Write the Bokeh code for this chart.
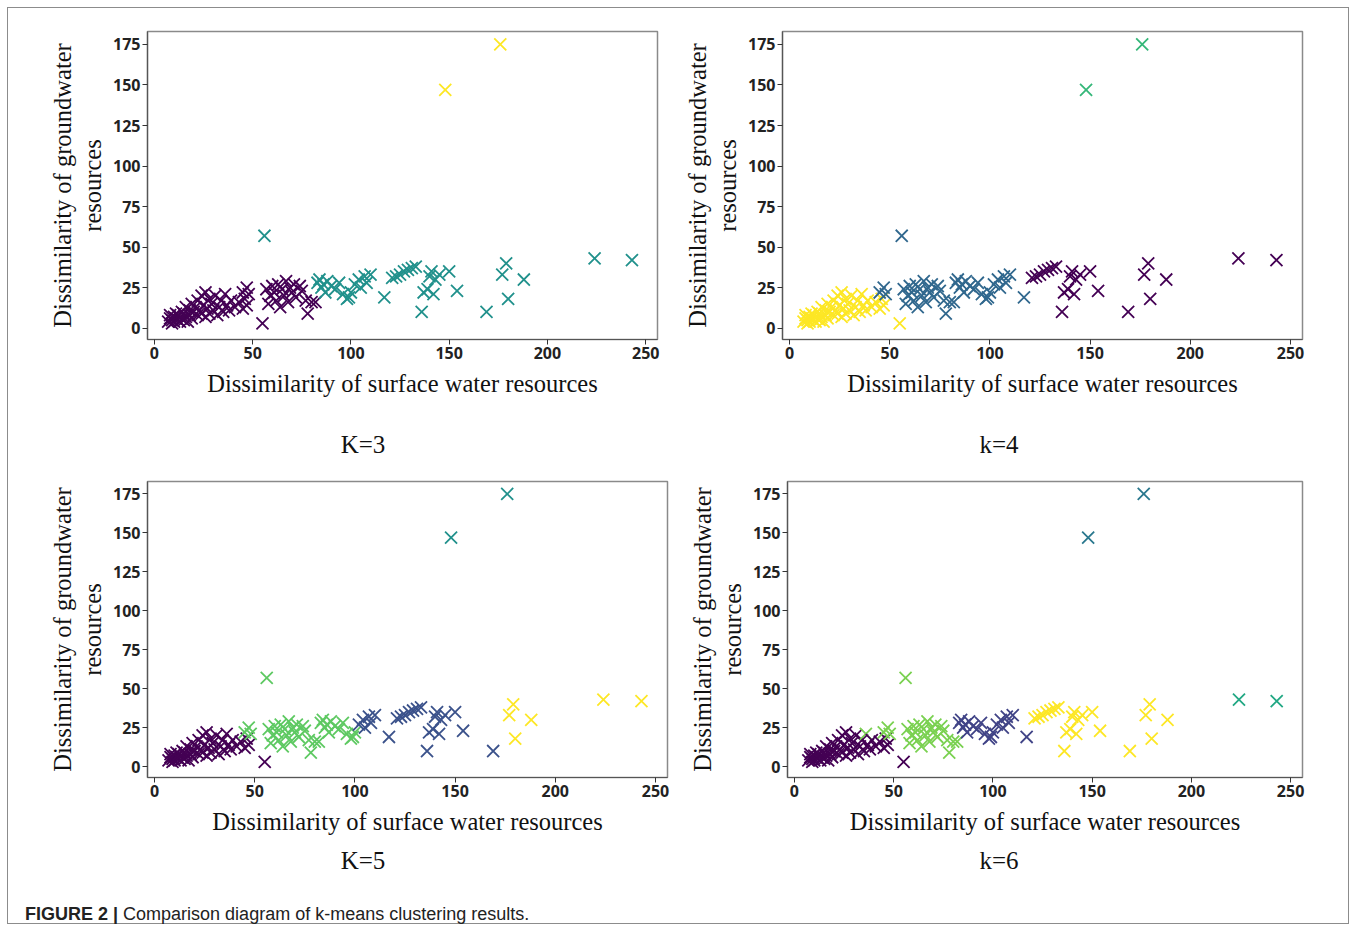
from bokeh.plotting import figure
from bokeh.layouts import column, row
from bokeh.models import Div, Range1d, FixedTicker, ColumnDataSource
from bokeh.embed import file_html
from bokeh.resources import INLINE

# ---- data ----
surface = [
    7, 8, 8, 9, 9, 10, 10, 11, 11, 12, 12, 13, 13, 14, 14, 15, 15, 16, 16, 17, 18, 18, 19, 19, 20,
    21, 22, 22, 23, 24, 24, 25, 26, 26, 27, 28, 28, 29, 30, 31, 32, 33, 34, 35, 36, 37, 38, 39,
    41, 43, 45, 46, 47, 45, 47, 48, 55,
    56, 57, 58, 59, 60, 61, 62, 63, 64, 65, 66, 67, 68, 69, 70, 71, 72, 74, 75, 77, 78, 80, 82,
    83, 84, 85, 86, 87, 88, 90, 92, 94, 96, 98, 99, 100,
    102, 104, 105, 107, 108, 110, 117,
    121, 123, 125, 127, 129, 131, 133, 136, 137, 139, 140, 141, 142, 143, 145, 150, 154, 169,
    177, 179, 180, 188,
    224, 243,
    148, 176,
]
ground = [
    4, 6, 8, 3, 5, 7, 4, 6, 9, 5, 8, 4, 7, 6, 10, 5, 9, 13, 7, 4, 11, 8, 15, 6, 10,
    13, 17, 8, 11, 20, 9, 14, 22, 7, 12, 18, 9, 15, 11, 20, 8, 13, 17, 10, 21, 14, 11, 17,
    13, 16, 12, 18, 14, 22, 25, 21, 3,
    57, 24, 15, 20, 26, 22, 17, 27, 13, 24, 20, 29, 16, 25, 22, 27, 19, 26, 23, 17, 9, 16, 16,
    28, 30, 25, 27, 22, 29, 26, 24, 28, 21, 18, 19, 22,
    27, 30, 25, 32, 28, 33, 19,
    31, 32, 33, 35, 36, 37, 38, 10, 22, 24, 32, 35, 21, 30, 33, 35, 23, 10,
    33, 40, 18, 30,
    43, 42,
    147, 175,
]
labels_k3 = [
    0, 0, 0, 0, 0, 0, 0, 0, 0, 0, 0, 0, 0, 0, 0, 0, 0, 0, 0, 0, 0, 0, 0, 0, 0,
    0, 0, 0, 0, 0, 0, 0, 0, 0, 0, 0, 0, 0, 0, 0, 0, 0, 0, 0, 0, 0, 0, 0,
    0, 0, 0, 0, 0, 0, 0, 0, 0,
    1, 0, 0, 0, 0, 0, 0, 0, 0, 0, 0, 0, 0, 0, 0, 0, 0, 0, 0, 0, 0, 0, 0,
    1, 1, 1, 1, 1, 1, 1, 1, 1, 1, 1, 1, 1,
    1, 1, 1, 1, 1, 1, 1,
    1, 1, 1, 1, 1, 1, 1, 1, 1, 1, 1, 1, 1, 1, 1, 1, 1, 1,
    1, 1, 1, 1,
    1, 1,
    2, 2,
]
labels_k4 = [
    3, 3, 3, 3, 3, 3, 3, 3, 3, 3, 3, 3, 3, 3, 3, 3, 3, 3, 3, 3, 3, 3, 3, 3, 3,
    3, 3, 3, 3, 3, 3, 3, 3, 3, 3, 3, 3, 3, 3, 3, 3, 3, 3, 3, 3, 3, 3, 3,
    3, 3, 3, 3, 3, 1, 1, 1, 3,
    1, 1, 1, 1, 1, 1, 1, 1, 1, 1, 1, 1, 1, 1, 1, 1, 1, 1, 1, 1, 1, 1, 1,
    1, 1, 1, 1, 1, 1, 1, 1, 1, 1, 1, 1, 1,
    1, 1, 1, 1, 1, 1, 1,
    0, 0, 0, 0, 0, 0, 0, 0, 0, 0, 0, 0, 0, 0, 0, 0, 0, 0,
    0, 0, 0, 0,
    0, 0,
    2, 2,
]
labels_k5 = [
    0, 0, 0, 0, 0, 0, 0, 0, 0, 0, 0, 0, 0, 0, 0, 0, 0, 0, 0, 0, 0, 0, 0, 0, 0,
    0, 0, 0, 0, 0, 0, 0, 0, 0, 0, 0, 0, 0, 0, 0, 0, 0, 0, 0, 0, 0, 0, 0,
    0, 0, 0, 0, 0, 3, 3, 3, 0,
    3, 3, 3, 3, 3, 3, 3, 3, 3, 3, 3, 3, 3, 3, 3, 3, 3, 3, 3, 3, 3, 3, 3,
    3, 3, 3, 3, 3, 3, 3, 3, 3, 3, 3, 3, 3,
    1, 1, 1, 1, 1, 1, 1,
    1, 1, 1, 1, 1, 1, 1, 1, 1, 1, 1, 1, 1, 1, 1, 1, 1, 1,
    4, 4, 4, 4,
    4, 4,
    2, 2,
]
labels_k6 = [
    0, 0, 0, 0, 0, 0, 0, 0, 0, 0, 0, 0, 0, 0, 0, 0, 0, 0, 0, 0, 0, 0, 0, 0, 0,
    0, 0, 0, 0, 0, 0, 0, 0, 0, 0, 0, 0, 0, 0, 0, 0, 0, 0, 0, 4, 0, 0, 0,
    0, 0, 0, 0, 0, 4, 4, 4, 0,
    4, 4, 4, 4, 4, 4, 4, 4, 4, 4, 4, 4, 4, 4, 4, 4, 4, 4, 4, 4, 4, 4, 4,
    1, 1, 1, 1, 1, 1, 1, 1, 1, 1, 1, 1, 1,
    1, 1, 1, 1, 1, 1, 1,
    5, 5, 5, 5, 5, 5, 5, 5, 5, 5, 5, 5, 5, 5, 5, 5, 5, 5,
    5, 5, 5, 5,
    3, 3,
    2, 2,
]

pal3 = ["#440154", "#21918C", "#FDE725"]
pal4 = ["#440154", "#31688E", "#35B779", "#FDE725"]
pal5 = ["#440154", "#3B528B", "#21918C", "#5EC962", "#FDE725"]
pal6 = ["#440154", "#414487", "#2A788E", "#22A884", "#7AD151", "#FDE725"]

x_ticks = [0, 50, 100, 150, 200, 250]
y_ticks = [0, 25, 50, 75, 100, 125, 150, 175]
x_title = "Dissimilarity of surface water resources"
y_title = "Dissimilarity of groundwater\nresources"
captions = ["K=3", "k=4", "K=5", "k=6"]
figure_caption = ("<b>FIGURE 2 |</b> Comparison diagram of k-means clustering results.")

SERIF = "Liberation Serif"
TICKFONT = "Open Sans"


def panel(labels, pal, w, h, bl, br, bt, bb):
    p = figure(width=w, height=h, output_backend="svg", toolbar_location=None,
               x_range=Range1d(-3.5, 256), y_range=Range1d(-7, 183),
               min_border_left=bl, min_border_right=br,
               min_border_top=bt, min_border_bottom=bb,
               border_fill_alpha=0)
    src = ColumnDataSource(dict(x=surface, y=ground,
                                c=[pal[i] for i in labels]))
    p.scatter("x", "y", source=src, marker="x", size=17, line_color="c",
              line_width=1.8)
    p.xgrid.visible = False
    p.ygrid.visible = False
    p.outline_line_color = "#8a8a8a"
    p.outline_line_width = 1.5
    p.xaxis.ticker = FixedTicker(ticks=x_ticks)
    p.yaxis.ticker = FixedTicker(ticks=y_ticks)
    p.xaxis.axis_label = x_title
    p.yaxis.axis_label = y_title
    for ax in (p.xaxis[0], p.yaxis[0]):
        ax.axis_line_color = "#555555"
        ax.axis_line_width = 1.2
        ax.major_tick_line_color = "#333333"
        ax.major_tick_in = 0
        ax.major_tick_out = 5
        ax.minor_tick_line_color = None
        ax.major_label_text_font = TICKFONT
        ax.major_label_text_font_style = "bold"
        ax.major_label_text_font_size = "16px"
        ax.major_label_text_color = "#222222"
        ax.major_label_standoff = 2
        ax.axis_label_text_font = SERIF
        ax.axis_label_text_font_style = "normal"
        ax.axis_label_text_font_size = "24.5px"
        ax.axis_label_text_color = "#111111"
        ax.axis_label_text_line_height = 1.1
    p.xaxis.axis_label_standoff = 8
    p.yaxis.axis_label_standoff = 4
    return p


def caption_row(left_text, right_text, height, top, margin):
    span = ('<span style="position:absolute;left:{x}px;top:{t}px;'
            'transform:translateX(-50%);white-space:nowrap;">{s}</span>')
    html = ('<div style="position:relative;width:1340px;height:{h}px;">'.format(h=height)
            + span.format(x=355, t=top, s=left_text)
            + span.format(x=991, t=top, s=right_text)
            + '</div>')
    return Div(text=html, width=1340, height=height, margin=margin,
               styles={"font-family": SERIF, "font-size": "25px",
                       "line-height": "29px", "color": "#111111"})


p1 = panel(labels_k3, pal3, 670, 420, 139, 21, 23, 89)
p2 = panel(labels_k4, pal4, 670, 420, 104, 46, 23, 89)
p3 = panel(labels_k5, pal5, 670, 398, 139, 11, 16, 86)
p4 = panel(labels_k6, pal6, 670, 398, 109, 46, 16, 86)

cap_row1 = caption_row(captions[0], captions[1], 37, 2, (0, 0, 0, 0))
cap_row2 = caption_row(captions[2], captions[3], 40, 3, (-20, 0, 0, 0))

cap = Div(text=('<div style="position:relative;width:1340px;height:40px;">'
                '<span style="position:absolute;left:17px;top:21px;white-space:nowrap;">'
                + figure_caption + '</span></div>'),
          width=1340, height=40, margin=(0, 0, 0, 0),
          styles={"font-family": "Liberation Sans, Arial, sans-serif",
                  "font-size": "18px", "line-height": "21px", "color": "#222"})

layout = column(row(p1, p2), cap_row1, row(p3, p4), cap_row2, cap,
                styles={"border": "1px solid #8c8c8c", "margin": "7px 0 0 7px"})

open("out.html", "w").write(file_html(layout, INLINE))
